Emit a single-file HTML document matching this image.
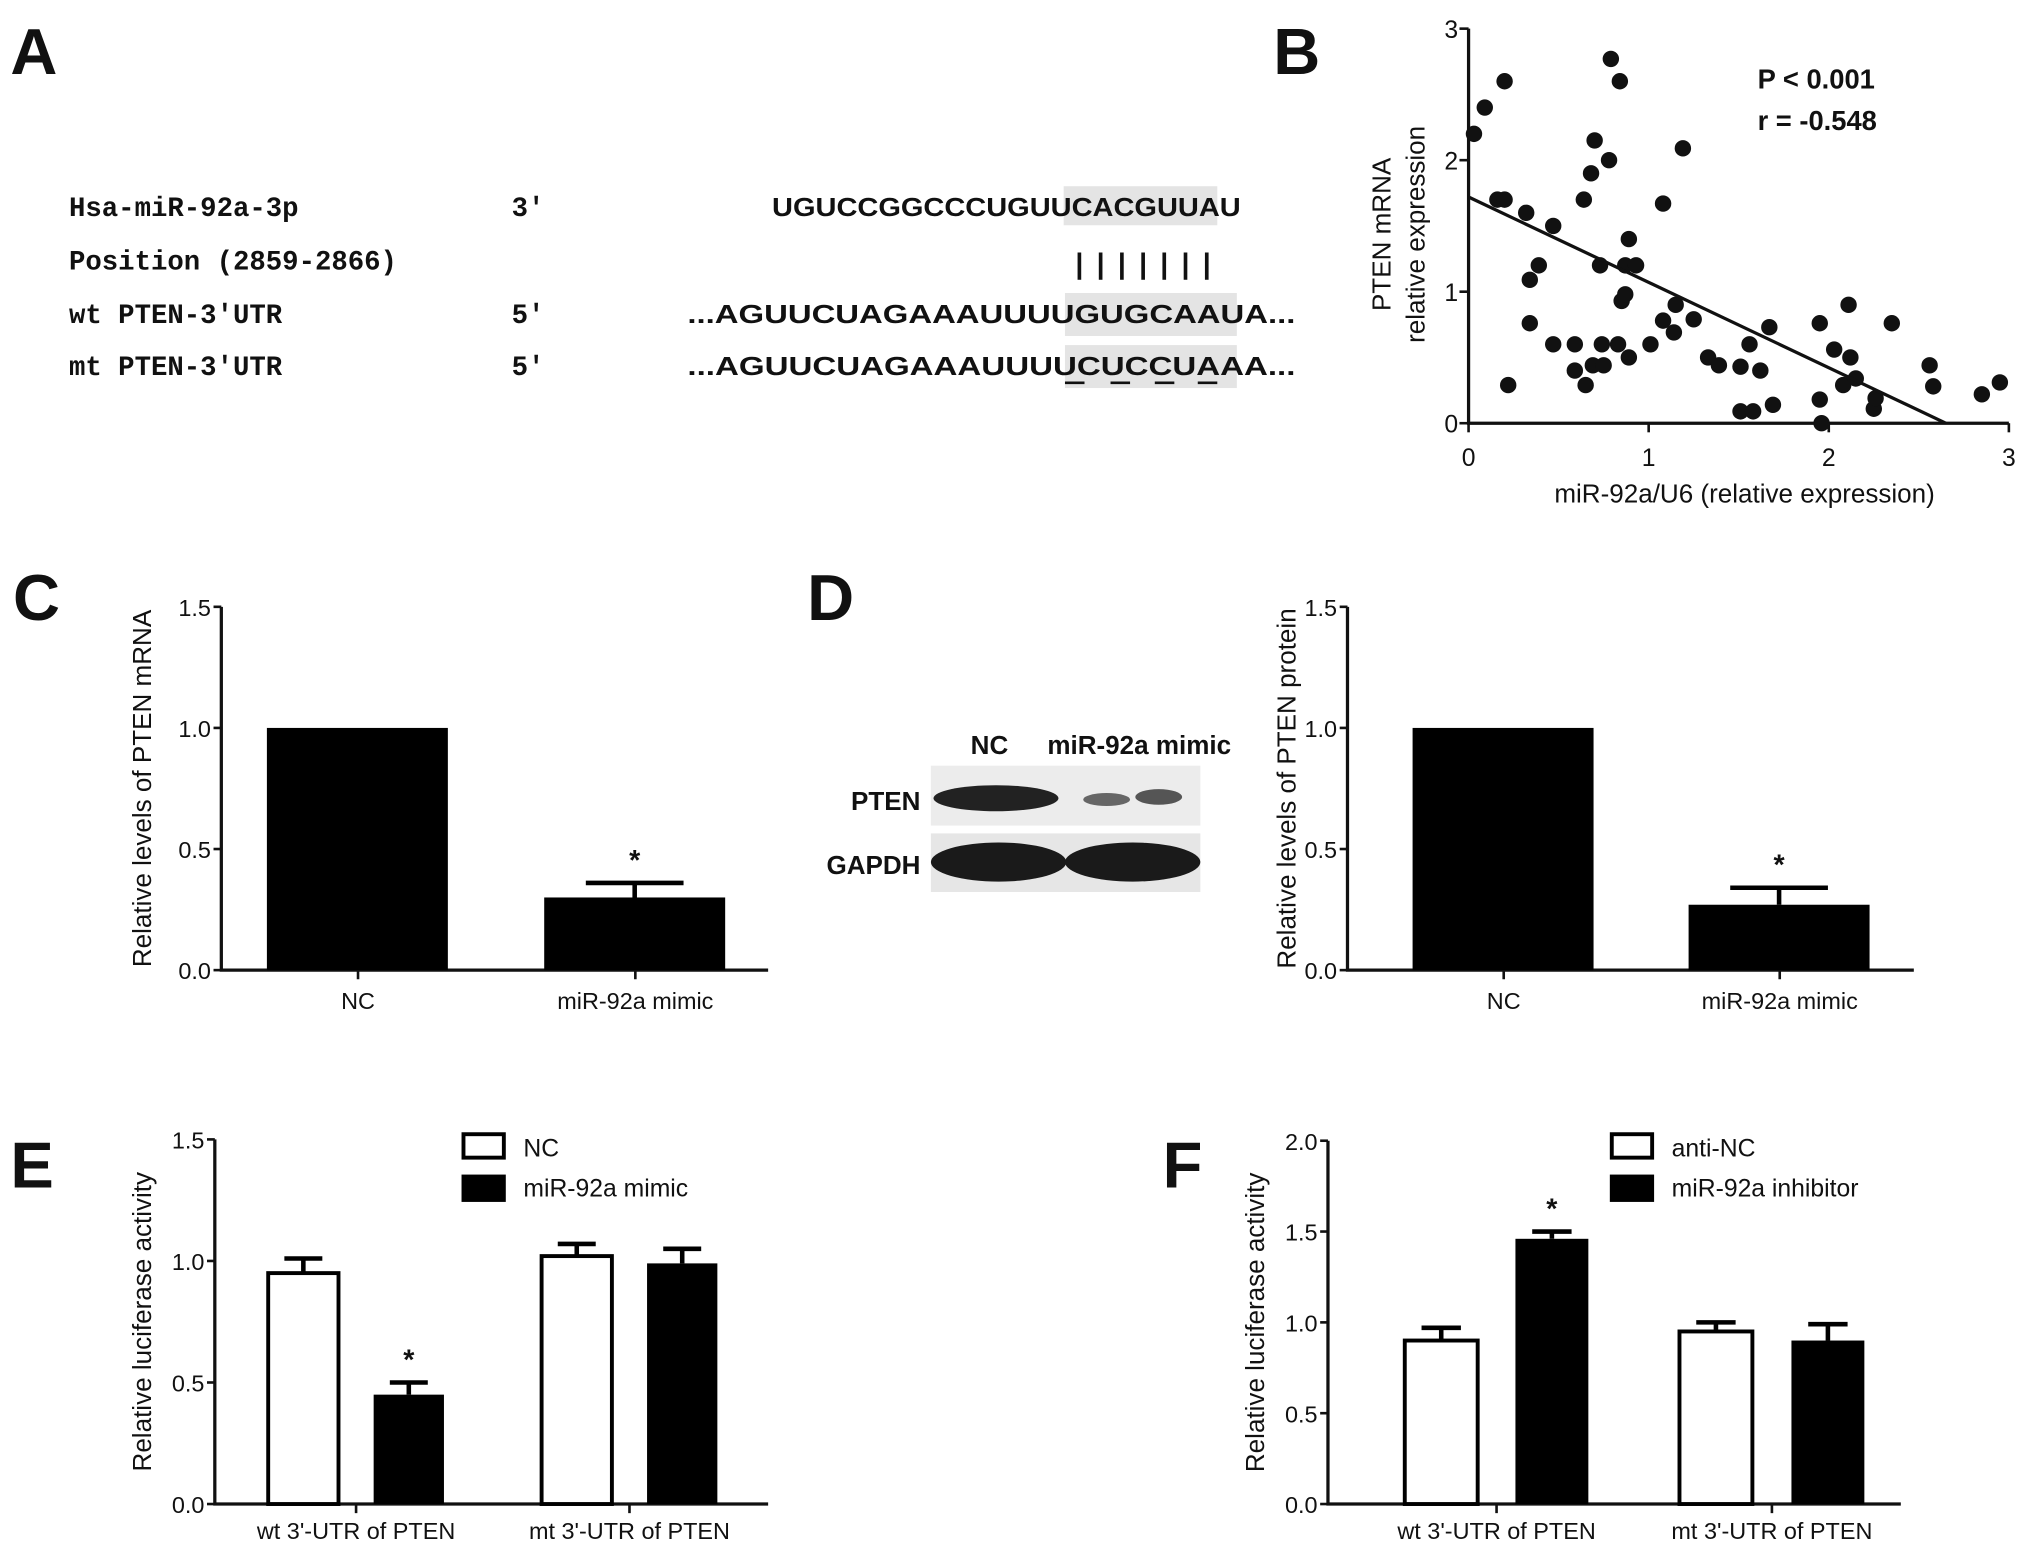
<!DOCTYPE html>
<html><head><meta charset="utf-8"><style>
html,body{margin:0;padding:0;background:#fff}
svg{display:block}
text{font-family:"Liberation Sans",Arial,sans-serif;fill:#111}
.mono{font-family:"Liberation Mono",monospace;font-weight:bold}
</style></head><body>
<svg id="fig" width="2031" height="1547" viewBox="0 0 1560 1188" preserveAspectRatio="none" xmlns="http://www.w3.org/2000/svg">
<g>
<text x="8" y="57" font-size="50" font-weight="bold">A</text>
<rect x="817" y="143" width="118" height="30" fill="#e4e4e4"/>
<rect x="818" y="225" width="132" height="33" fill="#e4e4e4"/>
<rect x="818" y="265" width="132" height="33" fill="#e4e4e4"/>
<text class="mono" x="53" y="166" font-size="21">Hsa-miR-92a-3p</text>
<text class="mono" x="393" y="166" font-size="21">3'</text>
<text x="593" y="166" font-size="20" font-weight="bold" textLength="360" lengthAdjust="spacingAndGlyphs">UGUCCGGCCCUGUUCACGUUAU</text>
<text class="mono" x="53" y="207" font-size="21">Position (2859-2866)</text>
<text x="826" y="210" font-size="22" font-weight="bold" textLength="104" lengthAdjust="spacing">|||||||</text>
<text class="mono" x="53" y="248" font-size="21">wt PTEN-3'UTR</text>
<text class="mono" x="393" y="248" font-size="21">5'</text>
<text x="528" y="248" font-size="20" font-weight="bold" textLength="467" lengthAdjust="spacingAndGlyphs">...AGUUCUAGAAAUUUUGUGCAAUA...</text>
<text class="mono" x="53" y="288" font-size="21">mt PTEN-3'UTR</text>
<text class="mono" x="393" y="288" font-size="21">5'</text>
<text x="528" y="288" font-size="20" font-weight="bold" textLength="467" lengthAdjust="spacingAndGlyphs">...AGUUCUAGAAAUUUUCUCCUAAA...</text>
<g stroke="#111" stroke-width="2">
<line x1="818" y1="294" x2="833" y2="294"/><line x1="853" y1="294" x2="868" y2="294"/><line x1="887" y1="294" x2="902" y2="294"/><line x1="920" y1="294" x2="935" y2="294"/>
</g>
</g>
<text x="978" y="57" font-size="50" font-weight="bold">B</text>
<text x="10" y="476" font-size="50" font-weight="bold">C</text>
<text x="620" y="476" font-size="50" font-weight="bold">D</text>
<text x="8" y="912" font-size="50" font-weight="bold">E</text>
<text x="893" y="912" font-size="50" font-weight="bold">F</text>
<g>
<text x="760" y="579" font-size="20" font-weight="bold" text-anchor="middle">NC</text>
<text x="875" y="579" font-size="20" font-weight="bold" text-anchor="middle">miR-92a mimic</text>
<rect x="715" y="588" width="207" height="46" fill="#ececec"/>
<rect x="715" y="640" width="207" height="45" fill="#e6e6e6"/>
<ellipse cx="765" cy="613" rx="48" ry="10" fill="#222"/>
<ellipse cx="850" cy="614" rx="18" ry="5" fill="#666"/>
<ellipse cx="890" cy="612" rx="18" ry="6" fill="#555"/>
<ellipse cx="767" cy="662" rx="52" ry="15" fill="#1a1a1a"/>
<ellipse cx="870" cy="662" rx="52" ry="15" fill="#1a1a1a"/>
<text x="707" y="622" font-size="20" font-weight="bold" text-anchor="end">PTEN</text>
<text x="707" y="671" font-size="20" font-weight="bold" text-anchor="end">GAPDH</text>
</g>
</svg>
<script>
// Panel B scatter data
const bX = [0.03,0.09,0.2,0.16,0.2,0.22,0.32,0.34,0.39,0.34,0.47,0.47,0.59,0.59,0.65,0.64,0.68,0.7,0.69,0.75,0.74,0.73,0.78,0.79,0.84,0.83,0.89,0.85,0.87,0.87,0.93,0.89,1.01,1.08,1.08,1.14,1.15,1.19,1.25,1.33,1.39,1.51,1.56,1.51,1.58,1.62,1.67,1.69,1.95,1.95,1.96,2.03,2.08,2.11,2.12,2.15,2.25,2.26,2.35,2.56,2.58,2.85,2.95];
const bY = [2.2,2.4,2.6,1.7,1.7,0.29,1.6,1.09,1.2,0.76,1.5,0.6,0.6,0.4,0.29,1.7,1.9,2.15,0.44,0.44,0.6,1.2,2.0,2.77,2.6,0.6,0.5,0.93,0.98,1.2,1.2,1.4,0.6,1.67,0.78,0.69,0.9,2.09,0.79,0.5,0.44,0.43,0.6,0.09,0.09,0.4,0.73,0.14,0.76,0.18,0.0,0.56,0.29,0.9,0.5,0.34,0.11,0.19,0.76,0.44,0.28,0.22,0.31];
const bTicks = [0,1,2,3];
const bFit = [1.72, 2.65]; // intercept, x-intercept
// Panel C
const cCats = ["NC","miR-92a mimic"];
const cVals = [1.0,0.30];
const cErr = [0,0.06];
const barTicks = ["0.0","0.5","1.0","1.5"];
// Panel D
const dCats = ["NC","miR-92a mimic"];
const dVals = [1.0,0.27];
const dErr = [0,0.07];
// Panel E
const eGroups = ["wt 3'-UTR of PTEN","mt 3'-UTR of PTEN"];
const eNC = [0.95,1.02];
const eNCerr = [0.06,0.05];
const eMimic = [0.45,0.99];
const eMimicErr = [0.05,0.06];
const eTicks = ["0.0","0.5","1.0","1.5"];
// Panel F
const fGroups = ["wt 3'-UTR of PTEN","mt 3'-UTR of PTEN"];
const fNC = [0.90,0.95];
const fNCerr = [0.07,0.05];
const fInh = [1.46,0.90];
const fInhErr = [0.04,0.09];
const fTicks = ["0.0","0.5","1.0","1.5","2.0"];

const NS="http://www.w3.org/2000/svg";
const svg=document.getElementById('fig');
function mk(tag,attrs,parent){const e=document.createElementNS(NS,tag);for(const k in attrs)e.setAttribute(k,attrs[k]);(parent||svg).appendChild(e);return e;}
function txt(x,y,s,size,anchor,parent,extra){const t=mk('text',Object.assign({x:x,y:y,'font-size':size,'text-anchor':anchor||'start'},extra||{}),parent);t.textContent=s;return t;}

// ---- Panel B ----
(function(){
 const g=mk('g',{});
 
 
 const x0=1128,x1=1543,y0=325,y1=22;
 const sx=v=>x0+(v-0)/(3-0)*(x1-x0), sy=v=>y0-(v/3)*(y0-y1);
 const ax=mk('path',{d:`M${x0} ${y1}V${y0}H${x1}`,stroke:'#111','stroke-width':2.5,fill:'none'},g);
 
 
 bTicks.forEach(t=>{
  mk('line',{x1:sx(t),x2:sx(t),y1:y0,y2:y0+7,stroke:'#111','stroke-width':2},g);
  mk('line',{x1:x0-7,x2:x0,y1:sy(t),y2:sy(t),stroke:'#111','stroke-width':2},g);
  const a=txt(sx(t),y0+33,String(t),19,'middle',g);
  
  
  const b=txt(x0-8,sy(t)+7,String(t),19,'end',g);
  
  
 });
 bX.forEach((v,i)=>{
  const c=mk('circle',{cx:sx(v),cy:sy(bY[i]),r:6.3,fill:'#111'},g);
  
  
 });
 const ln=mk('line',{x1:sx(0),y1:sy(bFit[0]),x2:sx(bFit[1]),y2:sy(0),stroke:'#111','stroke-width':2.5},g);
 
 
 const p=txt(1350,68,'P < 0.001',21,'start',g,{'font-weight':'bold'});
 
 
 const r=txt(1350,100,'r = -0.548',21,'start',g,{'font-weight':'bold'});
 
 
 const xt=txt(1340,386,'miR-92a/U6 (relative expression)',20,'middle',g);
 
 
 const yt1=txt(0,0,'PTEN mRNA',20,'middle',g,{transform:'translate(1068,180) rotate(-90)'});
 
 
 const yt2=txt(0,0,'relative expression',20,'middle',g,{transform:'translate(1094,180) rotate(-90)'});
 
 
})();

// ---- bar chart helper ----
function axisFrame(g,ax,yTop,yBot,xEnd,ticks,maxV,title,titleX){
 const sy=v=>yBot-(v/maxV)*(yBot-yTop);
 const a=mk('path',{d:`M${ax} ${yTop}V${yBot}H${xEnd}`,stroke:'#111','stroke-width':2.5,fill:'none'},g);
 
 
 ticks.forEach(t=>{
  const v=parseFloat(t);
  mk('line',{x1:ax-6,x2:ax,y1:sy(v),y2:sy(v),stroke:'#111','stroke-width':2},g);
  const l=txt(ax-8,sy(v)+7,t,18,'end',g);
  
  
 });
 const tt=txt(0,0,title,20,'middle',g,{transform:`translate(${titleX},${(yTop+yBot)/2}) rotate(-90)`});
 
 
 return sy;
}
function bar(g,x,w,v,err,sy,filled,star){
 const yb=sy(0);
 const r=mk('rect',{x:x,y:sy(v),width:w,height:yb-sy(v),fill:filled?'#000':'#fff',stroke:'#000','stroke-width':filled?0:3},g);
 
 
 if(err>0){
  const cx=x+w/2;
  const e=mk('path',{d:`M${cx} ${sy(v)}V${sy(v+err)}M${cx-w*0.27} ${sy(v+err)}H${cx+w*0.27}`,stroke:'#000','stroke-width':3.5,fill:'none'},g);
  
  
 }
 if(star){
  const s=txt(x+w/2,sy(v+err)-10,'*',22,'middle',g,{'font-weight':'bold'});
  
  
 }
}

// ---- Panel C ----
(function(){
 const g=mk('g',{});
 
 
 const sy=axisFrame(g,170,466,745,590,barTicks,1.5,'Relative levels of PTEN mRNA',116);
 const xs=[205,418];
 cCats.forEach((c,i)=>{
  bar(g,xs[i],139,cVals[i],cErr[i],sy,true,cErr[i]>0);
  mk('line',{x1:xs[i]+70,x2:xs[i]+70,y1:745,y2:752,stroke:'#111','stroke-width':2},g);
  const l=txt(xs[i]+70,775,c,18,'middle',g);
  
  
 });
})();

// ---- Panel D ----
(function(){
 const g=mk('g',{});
 
 
 const sy=axisFrame(g,1035,466,745,1470,barTicks,1.5,'Relative levels of PTEN protein',995);
 const xs=[1085,1297];
 dCats.forEach((c,i)=>{
  bar(g,xs[i],139,dVals[i],dErr[i],sy,true,dErr[i]>0);
  mk('line',{x1:xs[i]+70,x2:xs[i]+70,y1:745,y2:752,stroke:'#111','stroke-width':2},g);
  const l=txt(xs[i]+70,775,c,18,'middle',g);
  
  
 });
})();

// ---- grouped helper ----
function grouped(name,ax,yTop,xEnd,ticks,maxV,groups,a,aErr,b,bErr,xsA,xsB,w,legA,legB,legX){
 const g=mk('g',{});
 
 
 const sy=axisFrame(g,ax,yTop,1155,xEnd,ticks,maxV,'Relative luciferase activity',116+(ax-165));
 groups.forEach((gr,i)=>{
  bar(g,xsA[i],w,a[i],aErr[i],sy,false,false);
  const sig=(i===0);
  bar(g,xsB[i],w,b[i],bErr[i],sy,true,sig);
  const cx=(xsA[i]+xsB[i]+w)/2;
  mk('line',{x1:cx,x2:cx,y1:1155,y2:1162,stroke:'#111','stroke-width':2},g);
  const l=txt(cx,1182,gr,18,'middle',g);
  
  
 });
 const r1=mk('rect',{x:legX,y:871,width:31,height:18,fill:'#fff',stroke:'#000','stroke-width':3},g);
 
 
 const t1=txt(legX+46,888,legA,19,'start',g);
 
 
 const r2=mk('rect',{x:legX-1.5,y:902,width:34,height:21,fill:'#000'},g);
 
 
 const t2=txt(legX+46,919,legB,19,'start',g);
 
 
}
grouped('bar-chart-e',165,875,590,eTicks,1.5,eGroups,eNC,eNCerr,eMimic,eMimicErr,[206,416],[287,497],54,'NC','miR-92a mimic',356);
grouped('bar-chart-f',1020,876,1460,fTicks,2.0,fGroups,fNC,fNCerr,fInh,fInhErr,[1079,1290],[1164,1376],56,'anti-NC','miR-92a inhibitor',1238);
</script>
</body></html>
